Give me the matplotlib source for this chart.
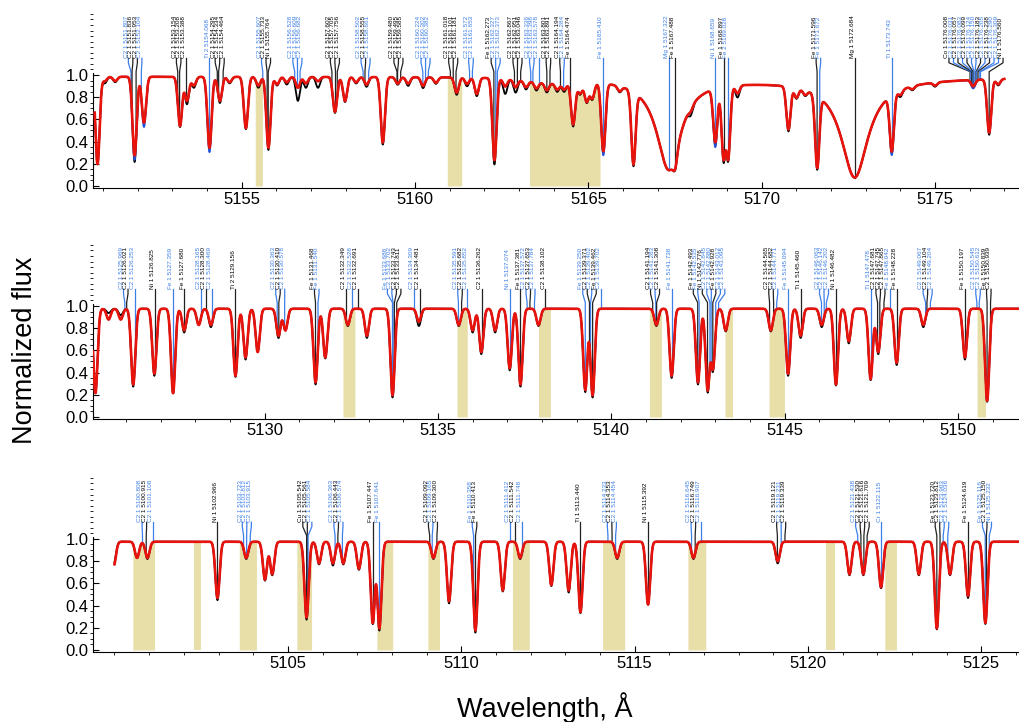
import numpy as np
import matplotlib.pyplot as plt
from matplotlib.ticker import MultipleLocator

plt.rcParams['font.family'] = ['Liberation Sans', 'DejaVu Sans']

# wavelength window of each panel (top, middle, bottom)
xlims = [(5150.71, 5177.42), (5125.05, 5151.76), (5099.38, 5126.09)]
spans = [(5150.76, 5177.0), (5125.05, 5151.76), (5100.0, 5126.09)]
conts = [0.985, 0.975, 0.975]
xticks = [[5155, 5160, 5165, 5170, 5175], [5130, 5135, 5140, 5145, 5150], [5105, 5110, 5115, 5120, 5125]]

# ---------- panel 1 ----------
p1_wl = [5150.84, 5151.05, 5151.35, 5151.91, 5152.18, 5153.22, 5153.42, 5153.62, 5154.07, 5154.37,
         5154.65, 5155.12, 5155.48, 5155.77, 5156.02, 5156.30, 5156.62, 5156.85, 5157.20, 5157.69,
         5157.98, 5158.30, 5158.60, 5159.07, 5159.50, 5159.80, 5160.23, 5160.60, 5161.20, 5161.50,
         5161.78, 5162.29, 5162.60, 5162.90, 5163.20, 5163.50, 5163.80, 5164.10, 5164.30, 5164.56,
         5164.76, 5164.95, 5165.11, 5165.43, 5165.90, 5166.30, 5167.49, 5167.95, 5168.66, 5168.90,
         5169.03, 5169.30, 5170.77, 5171.00, 5171.25, 5171.60, 5173.75, 5174.00, 5174.35, 5175.00,
         5176.10, 5176.56, 5176.82]
p1_red = [0.80, 0.04, 0.04, 0.72, 0.42, 0.45, 0.22, 0.08, 0.65, 0.22,
          0.05, 0.47, 0.08, 0.65, 0.07, 0.05, 0.10, 0.06, 0.04, 0.32,
          0.22, 0.05, 0.07, 0.60, 0.06, 0.06, 0.08, 0.05, 0.14, 0.06,
          0.15, 0.76, 0.07, 0.07, 0.06, 0.06, 0.07, 0.06, 0.06, 0.40,
          0.10, 0.18, 0.15, 0.66, 0.05, 0.77, 0.45, 0.05, 0.55, 0.72,
          0.72, 0.08, 0.43, 0.10, 0.05, 0.80, 0.62, 0.05, 0.03, 0.03,
          0.06, 0.50, 0.05]
p1_obs = [0.80, 0.06, 0.05, 0.78, 0.42, 0.46, 0.25, 0.10, 0.66, 0.24,
          0.06, 0.48, 0.10, 0.67, 0.08, 0.07, 0.22, 0.10, 0.10, 0.33,
          0.23, 0.06, 0.09, 0.62, 0.07, 0.08, 0.10, 0.06, 0.16, 0.08,
          0.17, 0.80, 0.14, 0.12, 0.08, 0.08, 0.09, 0.08, 0.08, 0.42,
          0.11, 0.19, 0.16, 0.68, 0.06, 0.79, 0.47, 0.10, 0.58, 0.75,
          0.74, 0.12, 0.45, 0.11, 0.06, 0.82, 0.64, 0.07, 0.04, 0.04,
          0.07, 0.52, 0.06]
p1_blue = [0.80, 0.04, 0.04, 0.76, 0.46, 0.45, 0.22, 0.08, 0.69, 0.22,
           0.05, 0.47, 0.08, 0.65, 0.07, 0.05, 0.10, 0.06, 0.04, 0.32,
           0.22, 0.05, 0.07, 0.60, 0.06, 0.06, 0.08, 0.05, 0.14, 0.06,
           0.15, 0.76, 0.07, 0.07, 0.06, 0.06, 0.07, 0.06, 0.06, 0.40,
           0.10, 0.18, 0.15, 0.70, 0.05, 0.77, 0.45, 0.05, 0.60, 0.72,
           0.72, 0.08, 0.43, 0.10, 0.05, 0.80, 0.66, 0.05, 0.03, 0.03,
           0.08, 0.50, 0.05]
p1_lor_wl = [5167.32, 5172.68]
p1_lor_d = [0.85, 0.92]
p1_lor_g = [0.42, 0.47]
p1_broad_wl = [5164.0, 5170.5]
p1_broad_d = [0.04, 0.03]
p1_broad_s = [0.8, 4.0]
p1_mask = [(5155.39, 5155.60), (5160.93, 5161.35), (5163.30, 5165.34)]
p1_lab_el = ['C2 1', 'C2 1', 'C2 1', 'C2 1', 'C2 1', 'C2 1', 'C2 1', 'Ti 2', 'C2 1', 'C2 1',
             'C2 1', 'C2 1', 'C2 1', 'Ni 1', 'C2 1', 'C2 1', 'C2 1', 'C2 1', 'C2 1', 'C2 1',
             'C2 1', 'C2 1', 'C2 1', 'C2 1', 'C2 1', 'C2 1', 'C2 1', 'C2 1', 'C2 1', 'C2 1',
             'C2 1', 'C2 1', 'C2 1', 'C2 1', 'Fe 1', 'C2 1', 'C2 1', 'C2 1', 'C2 1', 'C2 1',
             'C2 1', 'C2 1', 'C2 1', 'C2 1', 'C2 1', 'C2 1', 'C2 1', 'Fe 1', 'Fe 1', 'Mg 1',
             'Fe 1', 'Ni 1', 'Fe 1', 'Fe 2', 'Fe 1', 'Fe 1', 'Mg 1', 'Ti 1', 'Co 1', 'C2 1',
             'C2 1', 'C2 1', 'C2 1', 'C2 1', 'C2 1', 'C2 1', 'C2 1', 'C2 1', 'C2 1', 'C2 1',
             'Ni 1']
p1_lab_wl = [5151.807, 5151.836, 5151.953, 5152.104, 5153.154, 5153.208, 5153.388, 5154.068, 5154.295, 5154.334,
             5154.464, 5155.607, 5155.733, 5155.764, 5156.528, 5156.609, 5156.682, 5157.602, 5157.705, 5157.756,
             5158.502, 5158.555, 5158.661, 5159.480, 5159.495, 5159.585, 5160.224, 5160.302, 5160.382, 5161.018,
             5161.101, 5161.181, 5161.572, 5161.653, 5162.273, 5162.327, 5162.373, 5162.867, 5162.951, 5163.046,
             5163.336, 5163.398, 5163.578, 5163.801, 5163.891, 5164.194, 5164.284, 5164.474, 5165.410, 5167.322,
             5167.488, 5168.659, 5168.897, 5169.028, 5171.596, 5171.672, 5172.684, 5173.743, 5176.008, 5176.031,
             5176.057, 5176.083, 5176.099, 5176.124, 5176.150, 5176.183, 5176.205, 5176.238, 5176.290, 5176.309,
             5176.560]
p1_lab_blue = [1, 0, 0, 1, 0, 0, 0, 1, 0, 0,
               0, 1, 0, 0, 1, 1, 1, 0, 0, 0,
               1, 0, 1, 0, 0, 0, 1, 1, 1, 0,
               0, 0, 1, 1, 0, 1, 1, 0, 0, 0,
               1, 1, 1, 0, 0, 0, 1, 0, 1, 1,
               0, 1, 0, 1, 0, 1, 0, 1, 0, 1,
               0, 1, 0, 1, 1, 0, 1, 0, 1, 1,
               0]

# ---------- panel 2 ----------
p2_wl = [5125.12, 5125.50, 5125.85, 5126.21, 5126.82, 5127.36, 5127.68, 5128.10, 5128.45, 5129.16,
         5129.45, 5129.80, 5130.40, 5130.60, 5131.47, 5131.75, 5132.40, 5132.95, 5133.69, 5134.45,
         5135.60, 5136.00, 5136.25, 5136.65, 5137.07, 5137.38, 5137.90, 5139.25, 5139.46, 5141.30,
         5141.74, 5142.50, 5142.78, 5142.93, 5143.30, 5144.60, 5145.10, 5145.46, 5146.07, 5146.48,
         5146.85, 5147.48, 5147.70, 5148.23, 5149.00, 5150.20, 5150.84]
p2_red = [0.78, 0.10, 0.10, 0.70, 0.60, 0.78, 0.20, 0.15, 0.15, 0.62,
          0.45, 0.40, 0.25, 0.20, 0.68, 0.45, 0.15, 0.25, 0.80, 0.12,
          0.15, 0.20, 0.40, 0.20, 0.55, 0.70, 0.15, 0.75, 0.80, 0.15,
          0.62, 0.68, 0.75, 0.55, 0.20, 0.20, 0.60, 0.25, 0.15, 0.70,
          0.30, 0.65, 0.40, 0.50, 0.15, 0.45, 0.85]
p2_obs = [0.78, 0.04, 0.06, 0.72, 0.62, 0.78, 0.22, 0.15, 0.17, 0.63,
          0.47, 0.40, 0.27, 0.20, 0.70, 0.46, 0.16, 0.27, 0.82, 0.16,
          0.16, 0.22, 0.42, 0.22, 0.57, 0.72, 0.16, 0.77, 0.82, 0.16,
          0.64, 0.70, 0.77, 0.57, 0.21, 0.21, 0.62, 0.27, 0.17, 0.71,
          0.32, 0.66, 0.42, 0.52, 0.17, 0.47, 0.86]
p2_blue = p2_red
p2_lor_wl = []
p2_lor_d = []
p2_lor_g = []
p2_broad_wl = []
p2_broad_d = []
p2_broad_s = []
p2_mask = [(5132.26, 5132.61), (5135.55, 5135.85), (5137.90, 5138.25), (5141.10, 5141.45),
           (5143.28, 5143.50), (5144.55, 5145.00), (5150.55, 5150.80)]
p2_lab_el = ['C2 1', 'C2 1', 'C2 1', 'Ni 1', 'Fe 1', 'Fe 1', 'C2 1', 'C2 1', 'C2 1', 'Ti 2',
             'C2 1', 'C2 1', 'C2 1', 'Fe 1', 'Fe 1', 'C2 1', 'C2 1', 'C2 1', 'Fe 1', 'C2 1',
             'C2 1', 'C2 1', 'C2 1', 'C2 1', 'C2 1', 'C2 1', 'C2 1', 'C2 1', 'Ni 1', 'Fe 1',
             'C2 1', 'C2 1', 'C2 1', 'C2 1', 'Fe 1', 'C2 1', 'C2 1', 'Fe 1', 'C2 1', 'C2 1',
             'C2 1', 'C2 1', 'Fe 1', 'Fe 1', 'Fe 1', 'Ni 1', 'C2 1', 'C2 1', 'Fe 1', 'C2 1',
             'C2 1', 'C2 1', 'C2 1', 'C2 1', 'Fe 1', 'Ti 1', 'C2 1', 'C2 1', 'C2 1', 'Ni 1',
             'Ti 1', 'C2 1', 'C2 1', 'C2 1', 'Fe 1', 'Fe 1', 'C2 1', 'C2 1', 'C2 1', 'Fe 1',
             'C2 1', 'C2 1', 'Fe 1', 'C2 1']
p2_lab_wl = [5125.969, 5126.021, 5126.253, 5126.825, 5127.359, 5127.680, 5128.165, 5128.300, 5128.469, 5129.156,
             5130.363, 5130.410, 5130.578, 5131.468, 5131.540, 5132.349, 5132.528, 5132.691, 5133.688, 5133.702,
             5133.743, 5133.811, 5134.309, 5134.481, 5135.591, 5135.682, 5135.852, 5136.262, 5137.074, 5137.381,
             5137.572, 5137.653, 5137.784, 5138.102, 5139.250, 5139.371, 5139.402, 5139.462, 5139.702, 5141.194,
             5141.283, 5141.308, 5141.738, 5142.493, 5142.535, 5142.776, 5142.845, 5142.880, 5142.928, 5143.012,
             5143.095, 5144.565, 5144.682, 5144.771, 5145.094, 5145.460, 5146.063, 5146.142, 5146.202, 5146.482,
             5147.478, 5147.681, 5147.745, 5147.865, 5148.042, 5148.228, 5149.067, 5149.104, 5149.204, 5150.197,
             5150.545, 5150.612, 5150.839, 5150.939]
p2_lab_blue = [1, 0, 1, 0, 1, 0, 1, 0, 1, 0,
               1, 0, 1, 0, 1, 0, 1, 0, 1, 1,
               0, 0, 1, 0, 1, 0, 1, 0, 1, 0,
               1, 0, 1, 0, 1, 0, 1, 0, 1, 0,
               1, 0, 1, 0, 1, 0, 1, 1, 0, 1,
               1, 0, 0, 1, 1, 0, 1, 1, 1, 0,
               1, 0, 0, 0, 1, 0, 1, 0, 1, 0,
               1, 1, 0, 0]

# ---------- panel 3 ----------
p3_wl = [5099.98, 5100.65, 5100.95, 5102.97, 5103.80, 5104.34, 5104.55, 5105.54, 5105.90, 5106.30,
         5106.60, 5107.05, 5107.45, 5107.64, 5109.20, 5109.65, 5110.41, 5111.20, 5111.70, 5112.60,
         5113.10, 5113.44, 5114.50, 5115.39, 5116.70, 5119.13, 5121.20, 5121.60, 5122.11, 5123.20,
         5123.72, 5124.10, 5124.62, 5125.12]
p3_red = [0.22, 0.15, 0.15, 0.52, 0.15, 0.35, 0.30, 0.70, 0.20, 0.20,
          0.20, 0.25, 0.75, 0.80, 0.15, 0.55, 0.82, 0.45, 0.15, 0.40,
          0.45, 0.65, 0.15, 0.58, 0.15, 0.18, 0.30, 0.30, 0.42, 0.30,
          0.80, 0.30, 0.50, 0.75]
p3_obs = [0.20, 0.15, 0.16, 0.54, 0.16, 0.36, 0.31, 0.72, 0.21, 0.22,
          0.21, 0.26, 0.76, 0.82, 0.16, 0.57, 0.84, 0.46, 0.16, 0.41,
          0.47, 0.66, 0.16, 0.58, 0.16, 0.20, 0.31, 0.31, 0.43, 0.31,
          0.81, 0.31, 0.52, 0.76]
p3_blue = p3_red
p3_lor_wl = []
p3_lor_d = []
p3_lor_g = []
p3_broad_wl = []
p3_broad_d = []
p3_broad_s = []
p3_mask = [(5100.53, 5101.16), (5102.30, 5102.50), (5103.60, 5104.10), (5105.26, 5105.69),
           (5107.57, 5108.03), (5109.04, 5109.38), (5111.48, 5111.97), (5114.08, 5114.72),
           (5116.54, 5117.06), (5120.52, 5120.80), (5122.22, 5122.56)]
p3_lab_el = ['C2 1', 'C2 1', 'C2 1', 'Ni 1', 'C2 1', 'C2 1', 'C2 1', 'Cu 1', 'C2 1', 'C2 1',
             'C2 1', 'C2 1', 'C2 1', 'Fe 1', 'Fe 1', 'C2 1', 'C2 1', 'C2 1', 'Fe 1', 'Fe 1',
             'C2 1', 'C2 1', 'C2 1', 'Ti 1', 'C2 1', 'C2 1', 'C2 1', 'Ni 1', 'C2 1', 'C2 1',
             'C2 1', 'C2 1', 'C2 1', 'C2 1', 'C2 1', 'C2 1', 'C2 1', 'C2 1', 'Cr 1', 'Fe 1',
             'C2 1', 'C2 1', 'C2 1', 'Fe 1', 'Fe 1', 'C2 1', 'Ni 1']
p3_lab_wl = [5100.808, 5100.915, 5101.108, 5102.966, 5103.723, 5103.812, 5103.915, 5105.542, 5105.561, 5105.584,
             5106.363, 5106.443, 5106.574, 5107.447, 5107.641, 5109.092, 5109.165, 5109.300, 5110.358, 5110.413,
             5111.412, 5111.542, 5111.748, 5113.440, 5114.233, 5114.353, 5114.454, 5115.392, 5116.645, 5116.749,
             5116.907, 5119.121, 5119.231, 5119.339, 5121.438, 5121.530, 5121.616, 5121.709, 5122.115, 5123.720,
             5123.812, 5123.903, 5124.036, 5124.619, 5125.116, 5125.150, 5125.232]
p3_lab_blue = [1, 0, 1, 0, 1, 1, 1, 0, 0, 1,
               1, 0, 1, 0, 1, 0, 1, 0, 1, 0,
               1, 0, 1, 0, 1, 0, 1, 0, 1, 0,
               1, 0, 1, 0, 1, 0, 0, 0, 1, 0,
               0, 1, 1, 0, 1, 0, 1]

panels = [
    (p1_wl, p1_red, p1_obs, p1_blue, p1_lor_wl, p1_lor_d, p1_lor_g, p1_broad_wl, p1_broad_d, p1_broad_s,
     p1_mask, p1_lab_el, p1_lab_wl, p1_lab_blue),
    (p2_wl, p2_red, p2_obs, p2_blue, p2_lor_wl, p2_lor_d, p2_lor_g, p2_broad_wl, p2_broad_d, p2_broad_s,
     p2_mask, p2_lab_el, p2_lab_wl, p2_lab_blue),
    (p3_wl, p3_red, p3_obs, p3_blue, p3_lor_wl, p3_lor_d, p3_lor_g, p3_broad_wl, p3_broad_d, p3_broad_s,
     p3_mask, p3_lab_el, p3_lab_wl, p3_lab_blue),
]

SIG = 0.06
RED = '#e8140c'
BLUE = '#1f4fd6'
LBLUE = '#3d7fe8'
YELLOW = '#e8dea8'


def synth(grid, cont, wl, depth, lor_wl, lor_d, lor_g, br_wl, br_d, br_s):
    f = np.full_like(grid, cont)
    for c, d in zip(wl, depth):
        f *= 1 - d * np.exp(-0.5 * ((grid - c) / SIG) ** 2)
    for c, d, g in zip(lor_wl, lor_d, lor_g):
        f *= 1 - d / (1 + ((grid - c) / g) ** 2)
    for c, d, s in zip(br_wl, br_d, br_s):
        f *= 1 - d * np.exp(-0.5 * ((grid - c) / s) ** 2)
    return f


def spread(xs, sep):
    pos = np.array(xs, dtype=float)
    for _ in range(500):
        moved = False
        for i in range(1, len(pos)):
            gap = pos[i] - pos[i - 1]
            if gap < sep - 1e-9:
                sh = (sep - gap) / 2
                pos[i - 1] -= sh
                pos[i] += sh
                moved = True
        if not moved:
            break
    return pos


fig = plt.figure(figsize=(10.19, 7.22), dpi=100)
bottoms = [0.7396, 0.4197, 0.0970]
height = 0.2465
YLIM = (-0.018, 1.585)

for k, pan in enumerate(panels):
    (wl, red_d, obs_d, blue_d, lwl, ld, lg, bwl, bd, bs, masks, lab_el, lab_wl, lab_blue) = pan
    ax = fig.add_axes([93 / 1019, bottoms[k], 1 - 93 / 1019, height])
    grid = np.arange(spans[k][0], spans[k][1], 0.005)
    red = synth(grid, conts[k], wl, red_d, lwl, ld, lg, bwl, bd, bs)
    obs = synth(grid, conts[k], wl, obs_d, lwl, ld, lg, bwl, bd, bs)
    blue = synth(grid, conts[k], wl, blue_d, lwl, ld, lg, bwl, bd, bs)

    for lo, hi in masks:
        sel = (grid >= lo) & (grid <= hi)
        ax.fill_between(grid[sel], 0, red[sel], color=YELLOW, lw=0, zorder=0)

    # line identifications
    order = np.argsort(lab_wl)
    lw_sorted = np.array(lab_wl)[order]
    pos = spread(lw_sorted, 0.13)
    for j, idx in enumerate(order):
        w = lab_wl[idx]
        is_blue = lab_blue[idx]
        fmin = np.interp(w, grid, red)
        col = LBLUE if is_blue else '#222222'
        ax.plot([pos[j], pos[j], w, w], [1.15, 1.11, 1.03, fmin], color=col, lw=0.9, zorder=1)
        ax.text(pos[j] + 0.01, 1.155, f"{lab_el[idx]} {w:.3f}", rotation=90, ha='right', va='bottom',
                fontsize=4.6, color=LBLUE if is_blue else 'black', zorder=1)

    ax.plot(grid, obs, color='black', lw=1.3, zorder=2)
    ax.plot(grid, blue, color=BLUE, lw=1.3, zorder=3)
    ax.plot(grid, red, color=RED, lw=1.9, zorder=4)

    ax.set_xlim(*xlims[k])
    ax.set_ylim(*YLIM)
    ax.spines['top'].set_visible(False)
    ax.spines['right'].set_visible(False)
    ax.spines['left'].set_bounds(YLIM[0], 1.02)
    ax.set_yticks([0.0, 0.2, 0.4, 0.6, 0.8, 1.0])
    ax.set_yticklabels(['0.0', '0.2', '0.4', '0.6', '0.8', '1.0'])
    ax.yaxis.set_minor_locator(MultipleLocator(0.05))
    ax.set_xticks(xticks[k])
    ax.set_xticklabels([str(t) for t in xticks[k]])
    ax.xaxis.set_minor_locator(MultipleLocator(1))
    ax.tick_params(direction='in', labelsize=12, pad=3)
    ax.tick_params(which='major', length=4)
    ax.tick_params(which='minor', length=2)
    ax.patch.set_alpha(0)

fig.text(0.0245, 0.515, 'Normalized flux', rotation=90, ha='center', va='center', fontsize=19.5)
fig.text(0.535, 0.02, 'Wavelength, Å', ha='center', va='center', fontsize=19.5)

fig.savefig('out.png', dpi=100)
